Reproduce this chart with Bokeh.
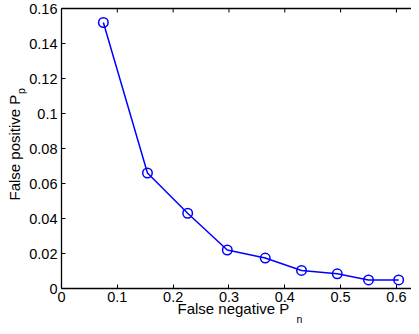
from bokeh.plotting import figure
from bokeh.models import LinearAxis, FixedTicker, Range1d, Title
from bokeh.embed import file_html
from bokeh.resources import INLINE
import math

# data
false_negative = [0.075, 0.154, 0.226, 0.297, 0.365, 0.430, 0.494, 0.550, 0.604]
false_positive = [0.152, 0.066, 0.043, 0.022, 0.0174, 0.0103, 0.0084, 0.0049, 0.0049]

x_ticks = [0, 0.1, 0.2, 0.3, 0.4, 0.5, 0.6]
x_tick_labels = ["0", "0.1", "0.2", "0.3", "0.4", "0.5", "0.6"]
y_ticks = [0, 0.02, 0.04, 0.06, 0.08, 0.1, 0.12, 0.14, 0.16]
y_tick_labels = ["0", "0.02", "0.04", "0.06", "0.08", "0.1", "0.12", "0.14", "0.16"]

x_label, x_sub = "False negative P", "n"
y_label, y_sub = "False positive P", "p"

FONT = "Liberation Sans"
X_END = 0.627
Y_END = 0.16

p = figure(width=411, height=326, output_backend="svg", toolbar_location=None,
           x_range=Range1d(0, X_END), y_range=Range1d(0, Y_END),
           x_axis_location=None, y_axis_location=None,
           min_border_left=61, min_border_right=0, min_border_top=8, min_border_bottom=38)
p.outline_line_color = None
p.grid.visible = False
p.background_fill_color = "white"
p.border_fill_color = "white"


def style_axis(ax, ticks, labels, standoff):
    ax.ticker = FixedTicker(ticks=ticks)
    ax.major_label_overrides = {t: l for t, l in zip(ticks, labels)}
    ax.minor_tick_line_color = None
    ax.major_tick_in = 4
    ax.major_tick_out = 0
    ax.major_tick_line_color = "black"
    ax.major_tick_line_width = 1
    ax.axis_line_color = "black"
    ax.axis_line_width = 1.3
    ax.major_label_text_font = FONT
    ax.major_label_text_font_size = "14.5px"
    ax.major_label_text_color = "black"
    ax.major_label_standoff = standoff


def title(text, size, align_v, standoff, offset):
    return Title(text=text, align="left", vertical_align=align_v, standoff=standoff,
                 offset=offset, text_font=FONT, text_font_size=size,
                 text_font_style="normal", text_color="black")


# bottom axis + its title with subscript
xb = LinearAxis()
style_axis(xb, x_ticks, x_tick_labels, 3)
p.add_layout(xb, "below")
p.add_layout(title(x_label, "15px", "bottom", -14, 116), "below")
p.add_layout(title(x_sub, "10.5px", "bottom", 3, 235), "below")

# left axis + its title with subscript
yl = LinearAxis()
style_axis(yl, y_ticks, y_tick_labels, 4)
p.add_layout(yl, "left")
p.add_layout(title(y_sub, "10.5px", "top", -5, 194.5), "left")
p.add_layout(title(y_label, "15px", "bottom", -11, 88), "left")

# top border (box line) without labels
xa = LinearAxis(ticker=FixedTicker(ticks=[]))
xa.axis_line_color = "black"
xa.axis_line_width = 1.3
xa.major_label_standoff = 0
p.add_layout(xa, "above")

# inward tick marks along the top border
p.scatter(x_ticks, [Y_END] * len(x_ticks), marker="dash", angle=math.pi / 2, size=8,
          line_color="black", line_width=1)

p.line(false_negative, false_positive, line_color="#0000ff", line_width=1.5)
p.scatter(false_negative, false_positive, marker="circle", size=9.5,
          fill_color=None, line_color="#0000ff", line_width=1.5)

open("out.html", "w").write(file_html(p, INLINE))
